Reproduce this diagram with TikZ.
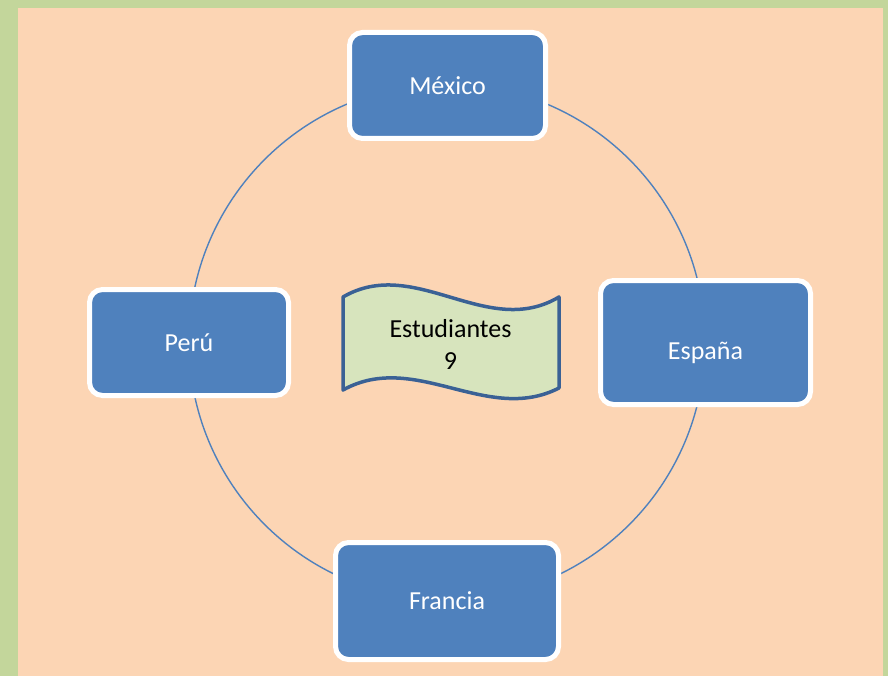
\documentclass[tikz,border=0pt]{standalone}
\usepackage{fontspec}
\setmainfont{Carlito}
\definecolor{bordergreen}{HTML}{C3D69B}
\definecolor{peach}{HTML}{FCD5B4}
\definecolor{boxblue}{HTML}{4F81BD}
\definecolor{wavefill}{HTML}{D7E4BD}
\definecolor{waveline}{HTML}{3A6195}
\begin{document}
\begin{tikzpicture}[x=1pt,y=-1pt,
  country/.style={rectangle, rounded corners=13pt, fill=boxblue, draw=white,
    line width=5pt, text=white, font=\fontsize{26}{31}\selectfont, inner sep=0pt},
  ring/.style={draw=boxblue, line width=1.4pt},
  wave/.style={draw=waveline, fill=wavefill, line width=3.5pt, line join=round},
  wavetext/.style={font=\fontsize{26}{32}\selectfont, align=center, text=black, inner sep=0pt}]
\useasboundingbox (0,0) rectangle (888,676);
\fill[bordergreen] (0,0) rectangle (888,676);
\fill[peach] (18,8) rectangle (883,676);
% ring through the four countries
\coordinate (c) at (447,342);
\draw[ring] (c) circle[radius=258pt];
% countries
\node[country, minimum width=196pt, minimum height=106pt] (mexico) at (447.5,85.5) {México};
\node[country, minimum width=210pt, minimum height=124pt] (espana) at (705.5,342.5) {\raisebox{-10pt}[\height][\depth]{España}};
\node[country, minimum width=199pt, minimum height=106pt] (peru) at (189,342.5) {Perú};
\node[country, minimum width=223pt, minimum height=117pt] (francia) at (447,601) {Francia};
% centre wave
\draw[wave] (343,297) .. controls (415,255) and (487,340) .. (559,297)
  -- (559,388) .. controls (487,425) and (415,350) .. (343,390) -- cycle;
\node[wavetext] (estudiantes) at (450.5,344) {Estudiantes\\9};
\end{tikzpicture}
\end{document}
